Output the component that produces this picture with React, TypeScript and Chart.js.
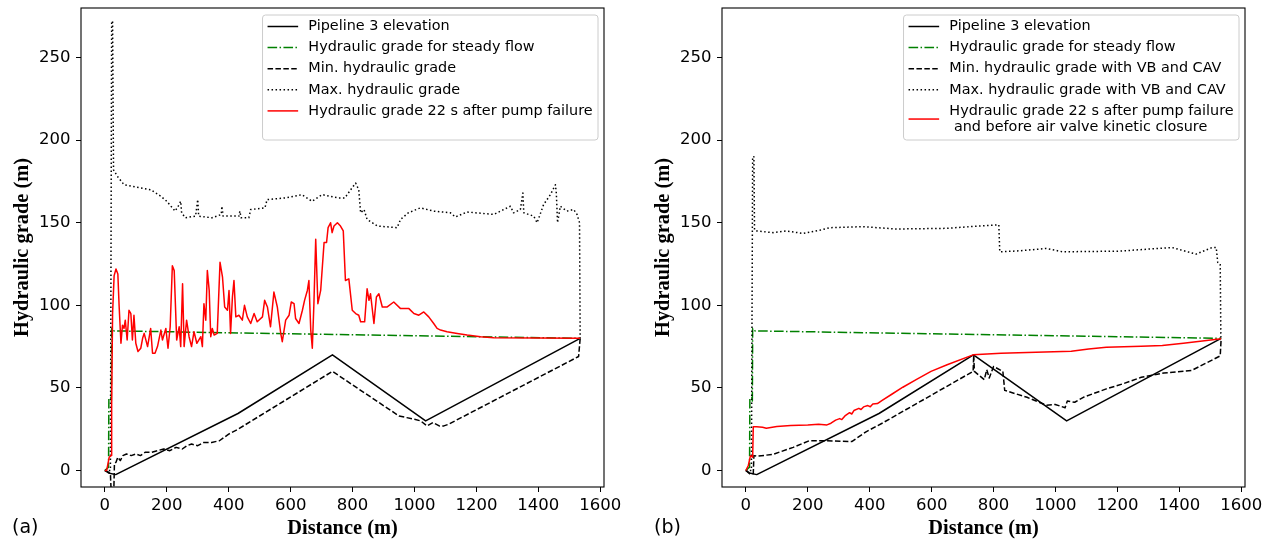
import React, { useEffect, useRef } from 'react';
import { Chart, registerables } from 'chart.js';

Chart.register(...registerables);

type Pt = [number, number];

// ---------- tick labels ----------
const xTickValues = [0, 200, 400, 600, 800, 1000, 1200, 1400, 1600];
const yTickValues = [0, 50, 100, 150, 200, 250];
const xRange = [-77, 1612];
const yRange = [-10, 280];

// ---------- shared series ----------
const elevation: Pt[] = [[0, 0], [12, -1.5], [35, -2.5], [430, 34.5], [735, 70], [1036, 30], [1535, 80]];
const steadyGrade: Pt[] = [[0, 0], [12, 2], [13, 44], [20, 44], [21, 42], [22, 86], [30, 84.5], [1535, 80]];

// ---------- panel (a) ----------
const minGradeA: Pt[] = [
  [0, 0], [12, -1], [18, -2], [22, -20], [28, -20], [31, 4], [36, 5], [42, 8], [50, 6], [58, 9], [70, 10], [85, 9],
  [100, 10], [115, 9], [130, 11], [150, 11], [170, 12], [190, 13], [210, 12], [230, 14], [250, 13], [265, 15],
  [280, 16], [300, 15], [320, 17], [345, 17], [370, 18], [400, 22], [430, 25], [735, 60], [950, 33], [975, 32],
  [1000, 31], [1020, 30], [1040, 27], [1060, 29], [1080, 27], [1095, 27], [1110, 28], [1530, 69], [1535, 80],
];
const maxGradeA: Pt[] = [
  [0, 0], [18, 0], [22, 272], [25, 272], [28, 182], [41, 178], [62, 173], [116, 171], [148, 170], [181, 166],
  [200, 163], [227, 157], [240, 161], [245, 163], [248, 156], [260, 153], [293, 154], [300, 164], [303, 154],
  [346, 153], [376, 155], [378, 160], [382, 154], [433, 154], [436, 157], [440, 153], [465, 153], [471, 158],
  [517, 159], [524, 164], [583, 165], [636, 167], [669, 163], [702, 167], [755, 165], [775, 165], [794, 170],
  [810, 174], [820, 170], [826, 156], [837, 158], [847, 152], [880, 148], [944, 147], [955, 152], [980, 156],
  [1019, 159], [1062, 157], [1116, 156], [1132, 153.5], [1170, 156.5], [1256, 155], [1288, 158], [1310, 160],
  [1320, 156], [1342, 158], [1350, 168], [1353, 156], [1385, 154], [1396, 150], [1417, 161], [1439, 167],
  [1455, 173], [1458, 168], [1462, 150], [1471, 160], [1492, 157], [1514, 158], [1525, 155], [1533, 150], [1535, 80],
];
const grade22sA: Pt[] = [
  [0, 0], [6, 0], [14, 8], [20, 9], [22, 40], [25, 95], [30, 118], [36, 122], [42, 119], [46, 100], [52, 77],
  [57, 88], [62, 86], [66, 91], [72, 79], [78, 97], [84, 95], [89, 79], [94, 94], [100, 77], [107, 72], [116, 74],
  [122, 80], [127, 83], [138, 75], [148, 86], [154, 71], [162, 71], [170, 75], [181, 85], [186, 79], [197, 86],
  [204, 74], [211, 87], [218, 124], [224, 121], [232, 79], [240, 87], [245, 75], [251, 113], [256, 75], [264, 91],
  [272, 81], [280, 75], [288, 84], [297, 77], [310, 81], [315, 75], [320, 101], [326, 91], [331, 121], [337, 109],
  [342, 81], [347, 86], [353, 82], [363, 83], [372, 126], [380, 117], [387, 99], [396, 97], [401, 109], [406, 83],
  [412, 105], [417, 115], [423, 93], [433, 94], [444, 91], [451, 100], [460, 93], [471, 89], [482, 95], [492, 90],
  [509, 93], [516, 103], [525, 99], [535, 87], [546, 108], [557, 99], [568, 83], [573, 78], [584, 91], [595, 94],
  [602, 102], [611, 101], [616, 92], [627, 89], [638, 97], [645, 103], [654, 109], [659, 115], [665, 85], [670, 74],
  [675, 100], [681, 140], [688, 101], [697, 109], [708, 138], [716, 138], [721, 147], [729, 150], [734, 144],
  [740, 148], [751, 150], [761, 148], [770, 145], [777, 115], [788, 116], [799, 97], [810, 95], [820, 94],
  [826, 90], [839, 90], [847, 110], [853, 103], [858, 107], [869, 89], [877, 105], [885, 107], [896, 99],
  [912, 99], [933, 102], [955, 98], [982, 98], [998, 95], [1014, 94], [1030, 96], [1046, 93], [1062, 89],
  [1073, 86], [1084, 85], [1105, 84], [1138, 83], [1170, 82], [1213, 81], [1256, 80.3], [1535, 80],
];
const legendLabelsA = [
  'Pipeline 3 elevation',
  'Hydraulic grade for steady flow',
  'Min. hydraulic grade',
  'Max. hydraulic grade',
  'Hydraulic grade 22 s after pump failure',
];

// ---------- panel (b) ----------
const minGradeB: Pt[] = [
  [0, 0], [12, -2], [24, -2], [26, 9], [36, 8.6], [88, 9.8], [153, 14], [205, 18], [250, 18], [342, 17.5],
  [388, 23.4], [440, 28.6], [734, 60], [736, 70], [738, 60], [770, 55], [778, 61], [786, 56], [800, 63],
  [830, 60], [836, 48.5], [908, 44.3], [971, 39.5], [999, 40], [1031, 38], [1038, 42], [1062, 41.3],
  [1090, 44.3], [1164, 49.4], [1220, 52.6], [1277, 56.4], [1350, 59], [1440, 60.6], [1532, 69.4], [1535, 80],
];
const maxGradeB: Pt[] = [
  [0, 0], [18, 0], [22, 190], [26, 190], [28, 145.5], [36, 145], [88, 144], [131, 145], [185, 143.5],
  [239, 145.5], [271, 147], [378, 147.6], [486, 146.2], [648, 146.6], [723, 147.6], [809, 148.6], [817, 148.7],
  [820, 132.4], [884, 133], [970, 134.4], [1023, 132.4], [1206, 132.8], [1376, 135], [1454, 131], [1506, 135],
  [1519, 135], [1524, 126], [1532, 125], [1534, 80],
];
const grade22sB: Pt[] = [
  [0, 0], [8, 3], [15, 9], [22, 8], [24, 26.5], [35, 26.5], [54, 26.2], [66, 25.6], [100, 26.6], [145, 27.2],
  [200, 27.6], [235, 28], [262, 27.6], [275, 28.6], [290, 30.5], [303, 31.4], [310, 30.8], [320, 33], [335, 35],
  [342, 34.2], [349, 36.3], [365, 37.6], [372, 36.9], [380, 38.5], [394, 39.3], [402, 38.6], [410, 40.2],
  [425, 40.5], [439, 42.3], [470, 46], [507, 50.4], [550, 55], [598, 60], [650, 64], [734, 70], [824, 71],
  [937, 71.6], [1051, 72.2], [1107, 73.6], [1164, 74.6], [1277, 75.2], [1345, 75.6], [1413, 77], [1481, 78.6],
  [1535, 79.8],
];
const legendLabelsB = [
  'Pipeline 3 elevation',
  'Hydraulic grade for steady flow',
  'Min. hydraulic grade with VB and CAV',
  'Max. hydraulic grade with VB and CAV',
  'Hydraulic grade 22 s after pump failure\n and before air valve kinetic closure',
];

// ---------- styles ----------
const SANS = '"DejaVu Sans", sans-serif';
const SERIF = '"Liberation Serif", serif';
const DASH_DOT = [9.6, 2.4, 1.5, 2.4];
const DASHED = [5.5, 2.4];
const DOTTED = [1.5, 2.5];

const framePlugin = {
  id: 'mplFrame',
  afterDatasetsDraw(chart: any) {
    const { ctx, chartArea: a } = chart;
    ctx.save();
    ctx.strokeStyle = '#000';
    ctx.lineWidth = 1.1;
    ctx.strokeRect(a.left, a.top, a.right - a.left, a.bottom - a.top);
    ctx.restore();
  },
};

const legendPlugin = {
  id: 'mplLegend',
  afterDraw(chart: any, _args: any, opts: any) {
    const { ctx, chartArea: a } = chart;
    const items = chart.data.datasets
      .slice()
      .sort((p: any, q: any) => p.legendIndex - q.legendIndex)
      .map((d: any) => ({ lines: String(d.label).split('\n'), color: d.borderColor, dash: d.borderDash || [] }));
    ctx.save();
    ctx.font = `14.4px ${SANS}`;
    const padL = 5, handle = 30.6, gap = 10.2, padR = 5.4;
    let maxW = 0;
    items.forEach((it: any) => it.lines.forEach((l: string) => { maxW = Math.max(maxW, ctx.measureText(l).width); }));
    const right = a.right - 6;
    const left = right - (padL + handle + gap + maxW + padR);
    const top = a.top + 7;
    const h = opts.height || 125;
    const r = 3;
    ctx.beginPath();
    ctx.moveTo(left + r, top);
    ctx.arcTo(right, top, right, top + h, r);
    ctx.arcTo(right, top + h, left, top + h, r);
    ctx.arcTo(left, top + h, left, top, r);
    ctx.arcTo(left, top, right, top, r);
    ctx.closePath();
    ctx.fillStyle = 'rgba(255,255,255,0.8)';
    ctx.fill();
    ctx.strokeStyle = '#cccccc';
    ctx.lineWidth = 1;
    ctx.stroke();
    let y = top + 11.5;
    items.forEach((it: any) => {
      const n = it.lines.length;
      const cy = y + ((n - 1) * 16.3) / 2;
      ctx.strokeStyle = it.color;
      ctx.lineWidth = 1.5;
      ctx.setLineDash(it.dash);
      ctx.beginPath();
      ctx.moveTo(left + padL, cy);
      ctx.lineTo(left + padL + handle, cy);
      ctx.stroke();
      ctx.setLineDash([]);
      ctx.fillStyle = '#000';
      ctx.textAlign = 'left';
      ctx.textBaseline = 'middle';
      it.lines.forEach((ln: string, k: number) => ctx.fillText(ln, left + padL + handle + gap, y + k * 16.3));
      y += 21.1 + (n - 1) * 16.3;
    });
    ctx.restore();
  },
};

const panelLabelPlugin = {
  id: 'panelLabel',
  afterDraw(chart: any, _args: any, opts: any) {
    const { ctx } = chart;
    ctx.save();
    ctx.font = `19px ${SANS}`;
    ctx.fillStyle = '#000';
    ctx.textAlign = 'left';
    ctx.textBaseline = 'middle';
    ctx.fillText(opts.text, opts.x, opts.y);
    ctx.restore();
  },
};

const toXY = (pts: Pt[]) => pts.map(([x, y]) => ({ x, y }));

function makeConfig(p: {
  labels: string[];
  min: Pt[];
  max: Pt[];
  red: Pt[];
  yAxisWidth: number;
  yTitlePad: number;
  rightPad: number;
  tag: string;
  tagX: number;
}): any {
  const line = (label: string, data: Pt[], color: string, dash: number[], order: number, legendIndex: number) => ({
    label,
    data: toXY(data),
    borderColor: color,
    backgroundColor: color,
    borderWidth: 1.5,
    borderDash: dash,
    borderCapStyle: 'butt',
    borderJoinStyle: 'round',
    pointRadius: 0,
    pointHoverRadius: 0,
    tension: 0,
    fill: false,
    order,
    legendIndex,
  });
  const tickFont = { family: SANS, size: 16.5 };
  const grid = { display: true, drawOnChartArea: false, drawTicks: true, tickLength: 5, color: '#000', lineWidth: 1 };
  return {
    type: 'line',
    data: {
      datasets: [
        line(p.labels[0], elevation, '#000000', [], 4, 0),
        line(p.labels[1], steadyGrade, '#008000', DASH_DOT, 3, 1),
        line(p.labels[2], p.min, '#000000', DASHED, 2, 2),
        line(p.labels[3], p.max, '#000000', DOTTED, 1, 3),
        line(p.labels[4], p.red, '#ff0000', [], 0, 4),
      ],
    },
    options: {
      responsive: false,
      animation: false,
      devicePixelRatio: 1,
      events: [],
      parsing: true,
      layout: { padding: { left: 0, right: p.rightPad, top: 8, bottom: 0 } },
      plugins: {
        legend: { display: false },
        tooltip: { enabled: false },
        mplLegend: { height: 125 },
        panelLabel: { text: p.tag, x: p.tagX, y: 528 },
      },
      scales: {
        x: {
          type: 'linear',
          min: xRange[0],
          max: xRange[1],
          afterBuildTicks: (s: any) => { s.ticks = xTickValues.map((v) => ({ value: v })); },
          afterFit: (s: any) => { s.height = 54; s.paddingLeft = 0; s.paddingRight = 0; },
          ticks: { font: tickFont, color: '#000', padding: 4, maxRotation: 0, autoSkip: false, callback: (v: any) => String(v) },
          grid,
          border: { display: false },
          title: {
            display: true,
            text: 'Distance (m)',
            color: '#000',
            font: { family: SERIF, size: 20.4, weight: 'bold', lineHeight: 1.2 },
            padding: { top: 0, bottom: 0 },
          },
        },
        y: {
          type: 'linear',
          min: yRange[0],
          max: yRange[1],
          afterBuildTicks: (s: any) => { s.ticks = yTickValues.map((v) => ({ value: v })); },
          afterFit: (s: any) => { s.width = p.yAxisWidth; s.paddingTop = 0; s.paddingBottom = 0; },
          ticks: { font: tickFont, color: '#000', padding: 5.5, autoSkip: false, callback: (v: any) => String(v) },
          grid,
          border: { display: false },
          title: {
            display: true,
            text: 'Hydraulic grade (m)',
            color: '#000',
            font: { family: SERIF, size: 20.4, weight: 'bold', lineHeight: 1.2 },
            padding: { top: p.yTitlePad, bottom: 0 },
          },
        },
      },
    },
    plugins: [framePlugin, legendPlugin, panelLabelPlugin],
  };
}

function Panel({ left, cfg }: { left: number; cfg: () => any }) {
  const ref = useRef<HTMLCanvasElement>(null);
  useEffect(() => {
    const chart = new Chart(ref.current as HTMLCanvasElement, cfg());
    return () => chart.destroy();
  }, []);
  return (
    <canvas
      ref={ref}
      width={636}
      height={541}
      style={{ position: 'absolute', left, top: 0, width: 636, height: 541, display: 'block' }}
    />
  );
}

export default function App() {
  return (
    <div style={{ position: 'absolute', left: 0, top: 0, width: 1272, height: 541, background: '#fff', overflow: 'hidden' }}>
      <Panel
        left={0}
        cfg={() =>
          makeConfig({
            labels: legendLabelsA,
            min: minGradeA,
            max: maxGradeA,
            red: grade22sA,
            yAxisWidth: 81,
            yTitlePad: 10.5,
            rightPad: 32,
            tag: '(a)',
            tagX: 12,
          })
        }
      />
      <Panel
        left={636}
        cfg={() =>
          makeConfig({
            labels: legendLabelsB,
            min: minGradeB,
            max: maxGradeB,
            red: grade22sB,
            yAxisWidth: 86,
            yTitlePad: 15.4,
            rightPad: 27,
            tag: '(b)',
            tagX: 18,
          })
        }
      />
    </div>
  );
}
